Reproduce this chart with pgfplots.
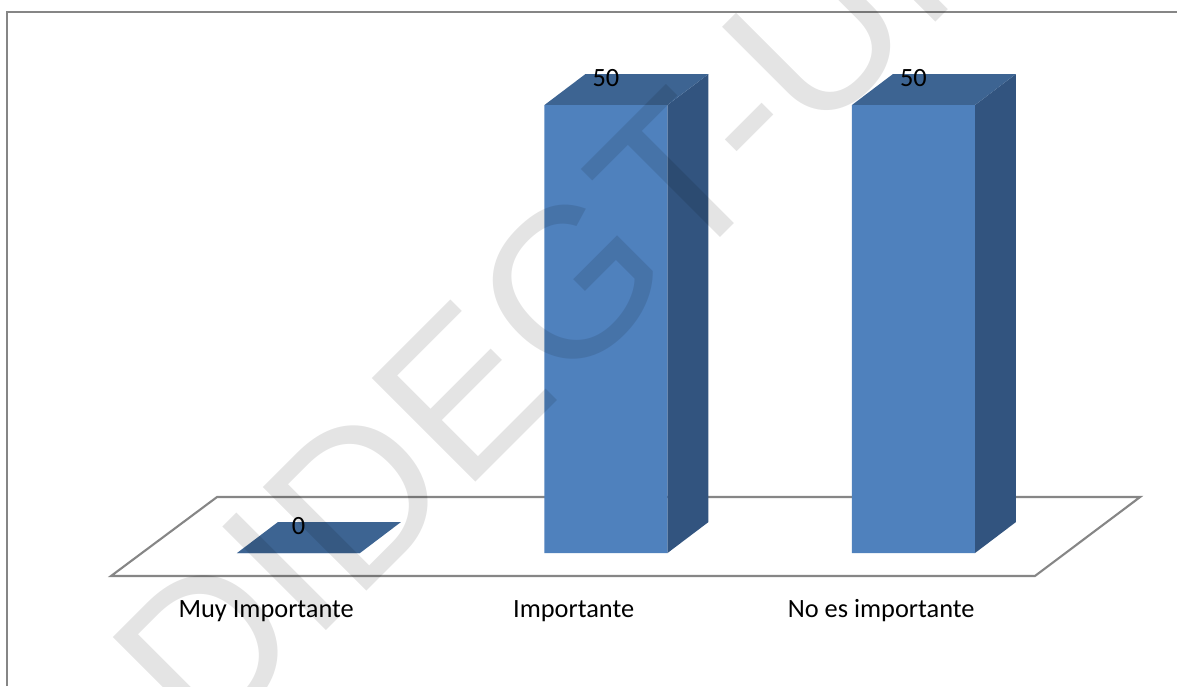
\documentclass[border=0pt]{standalone}
\usepackage{pgfplots}
\pgfplotsset{compat=1.18}
\usepackage{fontspec}
\setmainfont{Carlito}
\newfontfamily\wmfont{Liberation Sans}
\definecolor{frontc}{HTML}{4F81BD}
\definecolor{topc}{HTML}{3D6492}
\definecolor{sidec}{HTML}{32547F}
\definecolor{floorc}{HTML}{868686}
\begin{document}
\begin{tikzpicture}[x=1cm,y=1cm]
\useasboundingbox (0,0) rectangle (11.77,6.86);
\begin{axis}[
  at={(0,0)}, anchor=south west,
  scale only axis, width=11.77cm, height=6.86cm,
  xmin=-0.9707, xmax=2.857, ymin=-14.84, ymax=61.72,
  clip=false,
  axis line style={draw=none},
  ytick=\empty,
  xtick={-0.105,0.895,1.895},
  xticklabels={Muy Importante, Importante, No es importante},
  major tick length=0pt,
  /pgf/number format/assume math mode=true,
  xticklabel style={anchor=center, yshift=0.75cm, font=\fontsize{7.5}{9}\selectfont},
]
% floor
\addplot[fill=white, draw=floorc, line width=0.6pt] coordinates {(-0.6098,-2.567) (2.395,-2.567) (2.737,6.25) (-0.265,6.25)} -- cycle;
% side faces
\addplot[fill=sidec, draw=none] coordinates {(1.2,0) (1.3333,3.46) (1.3333,53.46) (1.2,50)} -- cycle;
\addplot[fill=sidec, draw=none] coordinates {(2.2,0) (2.3333,3.46) (2.3333,53.46) (2.2,50)} -- cycle;
% top faces
\addplot[fill=topc, draw=none] coordinates {(-0.2,0) (0.2,0) (0.3333,3.46) (-0.0667,3.46)} -- cycle;
\addplot[fill=topc, draw=none] coordinates {(0.8,50) (1.2,50) (1.3333,53.46) (0.9333,53.46)} -- cycle;
\addplot[fill=topc, draw=none] coordinates {(1.8,50) (2.2,50) (2.3333,53.46) (1.9333,53.46)} -- cycle;
% front faces
\addplot[ybar, bar width=0.4, fill=frontc, draw=none,
  nodes near coords,
  every node near coord/.append style={anchor=center, yshift=0.265cm, text=black, font=\fontsize{7.5}{9}\selectfont}]
  coordinates {(0,0) (1,50) (2,50)};
\end{axis}
\draw[floorc, line width=0.6pt] (0.07,0) -- (0.07,6.74) -- (11.77,6.74);
\begin{scope}
\clip (0,0) rectangle (11.77,6.86);
\node[rotate=45, anchor=base west, inner sep=0pt, opacity=0.105, text=black, font=\wmfont\fontsize{60.6}{66}\selectfont] at (2.036,-0.681) {DIDEGT-UNAN};
\end{scope}
\end{tikzpicture}
\end{document}
